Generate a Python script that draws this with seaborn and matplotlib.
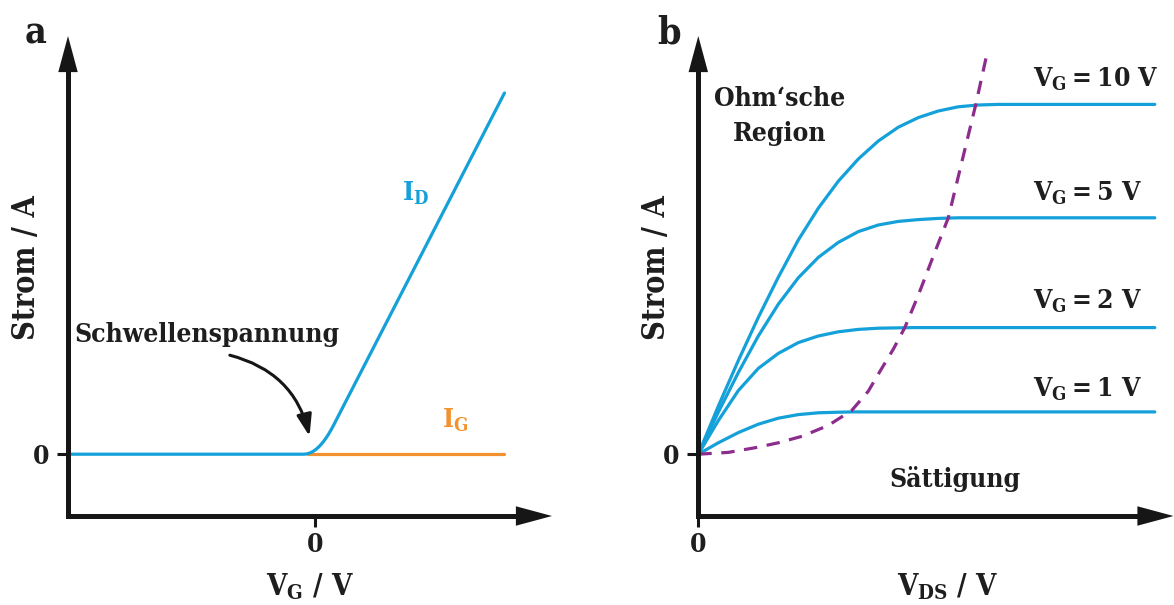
import numpy as np
import pandas as pd
import matplotlib
matplotlib.use("Agg")
import matplotlib.pyplot as plt
import seaborn as sns

# ---------------- data ----------------
# panel a: transfer characteristic
vg_a = [-5.0, -0.235, -0.185, -0.135, -0.085, -0.035, 0.015, 0.065, 0.115,
        0.165, 0.215, 0.265, 0.315, 0.365, 3.82]
id_a = [0.0, 0.0, 0.0033, 0.0134, 0.0301, 0.0535, 0.0835, 0.1203, 0.1638,
        0.2139, 0.2707, 0.3342, 0.4044, 0.4812, 6.02]
vg_ig = [-0.15, 3.82]
ig_a = [0.0, 0.0]

# panel b: output characteristics
vds_10 = [0, 0.4, 0.8, 1.2, 1.6, 2.0, 2.4, 2.8, 3.2, 3.6, 4.0, 4.4, 4.8, 5.2, 5.6, 6.0, 9.13]
id_10 = [0, 0.80, 1.56, 2.28, 2.95, 3.57, 4.10, 4.55, 4.92, 5.22, 5.45, 5.61, 5.72, 5.79, 5.82, 5.83, 5.83]
vds_5 = [0, 0.4, 0.8, 1.2, 1.6, 2.0, 2.4, 2.8, 3.2, 3.6, 4.0, 4.4, 4.8, 5.2, 9.13]
id_5 = [0, 0.70, 1.36, 1.97, 2.50, 2.94, 3.28, 3.53, 3.71, 3.82, 3.88, 3.91, 3.93, 3.94, 3.94]
vds_2 = [0, 0.4, 0.8, 1.2, 1.6, 2.0, 2.4, 2.8, 3.2, 3.6, 4.3, 9.13]
id_2 = [0, 0.56, 1.06, 1.43, 1.68, 1.86, 1.97, 2.04, 2.08, 2.10, 2.11, 2.11]
vds_1 = [0, 0.4, 0.8, 1.2, 1.6, 2.0, 2.4, 2.8, 3.1, 9.13]
id_1 = [0, 0.19, 0.36, 0.50, 0.60, 0.66, 0.69, 0.70, 0.705, 0.705]
vds_sat = [0, 0.6, 1.15, 1.6, 2.08, 2.6, 3.07, 3.4, 3.64, 3.9, 4.13, 4.4, 4.69, 5.0, 5.25, 5.55, 5.78]
id_sat = [0, 0.03, 0.11, 0.19, 0.30, 0.48, 0.73, 1.05, 1.39, 1.75, 2.11, 2.65, 3.28, 3.94, 4.80, 5.83, 6.70]

vg_labels = ["10", "5", "2", "1"]
vg_label_y = [6.13, 4.23, 2.43, 0.955]

# ---------------- style ----------------
sns.set_theme(style="white")
plt.rcParams["font.family"] = ["DejaVu Serif"]
plt.rcParams["font.weight"] = "bold"
plt.rcParams["axes.labelweight"] = "bold"
plt.rcParams["font.stretch"] = "condensed"
plt.rcParams["mathtext.fontset"] = "custom"
plt.rcParams["mathtext.rm"] = "DejaVu Serif:bold"
plt.rcParams["mathtext.bf"] = "DejaVu Serif:bold"
plt.rcParams["mathtext.it"] = "DejaVu Serif:bold"

BLUE = "#14A0D9"
ORANGE = "#F2922F"
PURPLE = "#8C2C8C"
BLACK = "#161616"
TXT = "#1e1e1e"

W, H = 1174, 605
fig = plt.figure(figsize=(W / 100, H / 100), dpi=100, facecolor="white")


def px_axes(x0, x1, y_bottom, y_top):
    return fig.add_axes([x0 / W, (H - y_bottom) / H, (x1 - x0) / W, (y_bottom - y_top) / H])


def draw_axes_arrows(ax):
    lw = 3.6
    ax.plot([0, 0], [0, 0.93], transform=ax.transAxes, color=BLACK, lw=lw,
            clip_on=False, solid_capstyle="projecting")
    ax.plot([0, 0.93], [0, 0], transform=ax.transAxes, color=BLACK, lw=lw,
            clip_on=False, solid_capstyle="projecting")
    style = "-|>,head_length=2.6,head_width=0.70"
    ax.annotate("", xy=(0, 1), xytext=(0, 0.9), xycoords="axes fraction",
                arrowprops=dict(arrowstyle=style, mutation_scale=10, lw=0,
                                color=BLACK, shrinkA=0, shrinkB=0))
    ax.annotate("", xy=(1, 0), xytext=(0.9, 0), xycoords="axes fraction",
                arrowprops=dict(arrowstyle=style, mutation_scale=10, lw=0,
                                color=BLACK, shrinkA=0, shrinkB=0))
    for s in ax.spines.values():
        s.set_visible(False)
    ax.set_xticks([0])
    ax.set_yticks([0])
    ax.set_xticklabels(["0"])
    ax.set_yticklabels(["0"])
    ax.tick_params(axis="both", direction="out", length=7.6, width=2.2,
                   color=BLACK, labelsize=19, labelcolor=TXT, pad=4)
    ax.tick_params(axis="x", bottom=True)
    ax.tick_params(axis="y", left=True, pad=6)
    ax.set_facecolor("none")


# ---------------- panel a ----------------
axa = px_axes(68, 552, 516, 36)
axa.set_xlim(-5, 4.78)
axa.set_ylim(-1.03, 6.97)
df_ig = pd.DataFrame({"V": vg_ig, "I": ig_a})
df_id = pd.DataFrame({"V": vg_a, "I": id_a})
sns.lineplot(data=df_ig, x="V", y="I", ax=axa, color=ORANGE, lw=2.3, sort=False)
sns.lineplot(data=df_id, x="V", y="I", ax=axa, color=BLUE, lw=2.3, sort=False)
draw_axes_arrows(axa)
axa.set_xlabel(r"$\mathbf{V_G\ /\ V}$", fontsize=21, color=TXT)
axa.xaxis.set_label_coords(0.5, -0.115)
axa.xaxis.label.set_va("top")
axa.set_ylabel("Strom / A", fontsize=22, color=TXT, fontweight="bold")
axa.yaxis.set_label_coords((27 - 68) / 484, (516 - 268) / 480)
axa.yaxis.label.set_va("center")
axa.text(1.74, 4.23, r"$\mathbf{I_D}$", color=BLUE, fontsize=19, ha="left", va="baseline")
axa.text(2.55, 0.433, r"$\mathbf{I_G}$", color=ORANGE, fontsize=19, ha="left", va="baseline")
axa.text(-2.2, 1.87, "Schwellenspannung", color=TXT, fontsize=19, ha="center", va="baseline")
axa.annotate("", xy=(-0.12, 0.30), xytext=(-1.73, 1.65),
             arrowprops=dict(arrowstyle="-|>,head_length=1.3,head_width=0.45",
                             mutation_scale=10, lw=2.2, color=BLACK,
                             connectionstyle="arc3,rad=-0.3", shrinkA=0, shrinkB=0))
fig.text(25 / W, 1 - 43 / H, "a", fontsize=27, color=TXT, ha="left", va="baseline")

# ---------------- panel b ----------------
axb = px_axes(698.3, 1173.5, 516, 36)
axb.set_xlim(0, 9.504)
axb.set_ylim(-1.03, 6.97)
for vx, iy in [(vds_10, id_10), (vds_5, id_5), (vds_2, id_2), (vds_1, id_1)]:
    d = pd.DataFrame({"V": vx, "I": iy})
    sns.lineplot(data=d, x="V", y="I", ax=axb, color=BLUE, lw=2.3, sort=False)
d = pd.DataFrame({"V": vds_sat, "I": id_sat})
sns.lineplot(data=d, x="V", y="I", ax=axb, color=PURPLE, lw=2.3, sort=False,
             linestyle=(0, (4.2, 3.0)))
draw_axes_arrows(axb)
axb.set_xlabel(r"$\mathbf{V_{DS}\ /\ V}$", fontsize=21, color=TXT)
axb.xaxis.set_label_coords((948 - 698.3) / 475.2, -0.115)
axb.xaxis.label.set_va("top")
axb.set_ylabel("Strom / A", fontsize=22, color=TXT, fontweight="bold")
axb.yaxis.set_label_coords((657 - 698.3) / 475.2, (516 - 268) / 480)
axb.yaxis.label.set_va("center")
for lab, yy in zip(vg_labels, vg_label_y):
    axb.text(6.69, yy, r"$\mathbf{V_G = %s\ V}$" % lab, color=TXT, fontsize=19,
             ha="left", va="baseline")
axb.text(1.62, 5.22, "Ohm‘sche\nRegion", color=TXT, fontsize=19, ha="center",
         va="baseline", linespacing=1.5)
axb.text(5.13, -0.55, "Sättigung", color=TXT, fontsize=19, ha="center", va="baseline")
fig.text(657 / W, 1 - 43 / H, "b", fontsize=27, color=TXT, ha="left", va="baseline")

fig.savefig("out.png", dpi=100, facecolor="white")
